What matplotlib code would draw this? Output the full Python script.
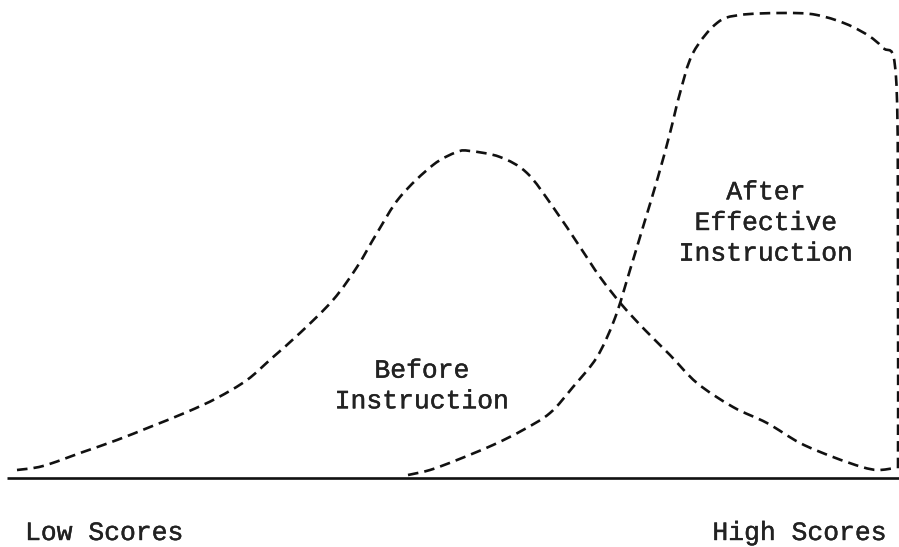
import matplotlib.pyplot as plt
import matplotlib.patheffects as pe
from matplotlib.path import Path
from matplotlib.patches import PathPatch

# Score position (left = low, right = high) and curve height above the baseline
before_x = [17, 43, 83, 117, 150, 187, 217, 247, 272, 300, 333, 357, 377, 400,
            433, 457, 470, 500, 527, 553, 580, 600, 622, 645, 670, 697, 733,
            767, 800, 833, 862, 878, 895]
before_y = [7, 11, 25, 37, 50, 65, 79, 97, 119, 144, 177, 210, 244, 280,
            312, 325, 326, 320, 304, 270, 230, 200, 172, 147, 122, 94, 70,
            54, 34, 20, 10, 7, 9]

after_x = [408, 430, 457, 493, 523, 550, 573, 597, 615, 630, 643, 658, 670,
           680, 693, 717, 740, 783, 817, 853, 882, 896, 898, 898]
after_y = [2, 7, 17, 32, 47, 64, 90, 120, 159, 207, 250, 300, 344,
           384, 424, 454, 462, 464, 462, 450, 430, 400, 200, 7]

font = 'Liberation Mono'


def smooth_path(xs, ys):
    # Catmull-Rom through the read points, drawn as cubic Bezier segments
    pts = list(zip(xs, ys))
    verts = [pts[0]]
    codes = [Path.MOVETO]
    for i in range(len(pts) - 1):
        p0 = pts[i - 1] if i > 0 else pts[i]
        p1 = pts[i]
        p2 = pts[i + 1]
        p3 = pts[i + 2] if i + 2 < len(pts) else pts[i + 1]
        c1 = (p1[0] + (p2[0] - p0[0]) / 6, p1[1] + (p2[1] - p0[1]) / 6)
        c2 = (p2[0] - (p3[0] - p1[0]) / 6, p2[1] - (p3[1] - p1[1]) / 6)
        verts += [c1, c2, p2]
        codes += [Path.CURVE4] * 3
    return Path(verts, codes)


fig = plt.figure(figsize=(8.99, 5.47), dpi=100)
fig.patch.set_facecolor('white')
ax = fig.add_axes([0, 0, 1, 1])
ax.set_xlim(0, 899)
ax.set_ylim(-70, 477)
ax.axis('off')

dash = (0, (4.0, 2.3))
for xs, ys in [(before_x, before_y), (after_x, after_y)]:
    ax.add_patch(PathPatch(smooth_path(xs, ys), facecolor='none', edgecolor='#111111',
                           linewidth=1.9, linestyle=dash, capstyle='butt'))

# baseline
ax.plot([7, 899], [-1, -1], color='#111111', linewidth=1.9, solid_capstyle='butt')

txt = dict(fontsize=19, family=font, color='#222222',
           path_effects=[pe.withStroke(linewidth=0.3, foreground='#222222')])

ax.text(25, -56, 'Low Scores', ha='left', va='center', **txt)
ax.text(887, -56, 'High Scores', ha='right', va='center', **txt)

ax.text(422, 91, 'Before\nInstruction', ha='center', va='center',
        linespacing=1.35, **txt)
ax.text(766, 254, 'After\nEffective\nInstruction', ha='center', va='center',
        linespacing=1.35, **txt)

fig.savefig('out.png', dpi=100, facecolor='white')
